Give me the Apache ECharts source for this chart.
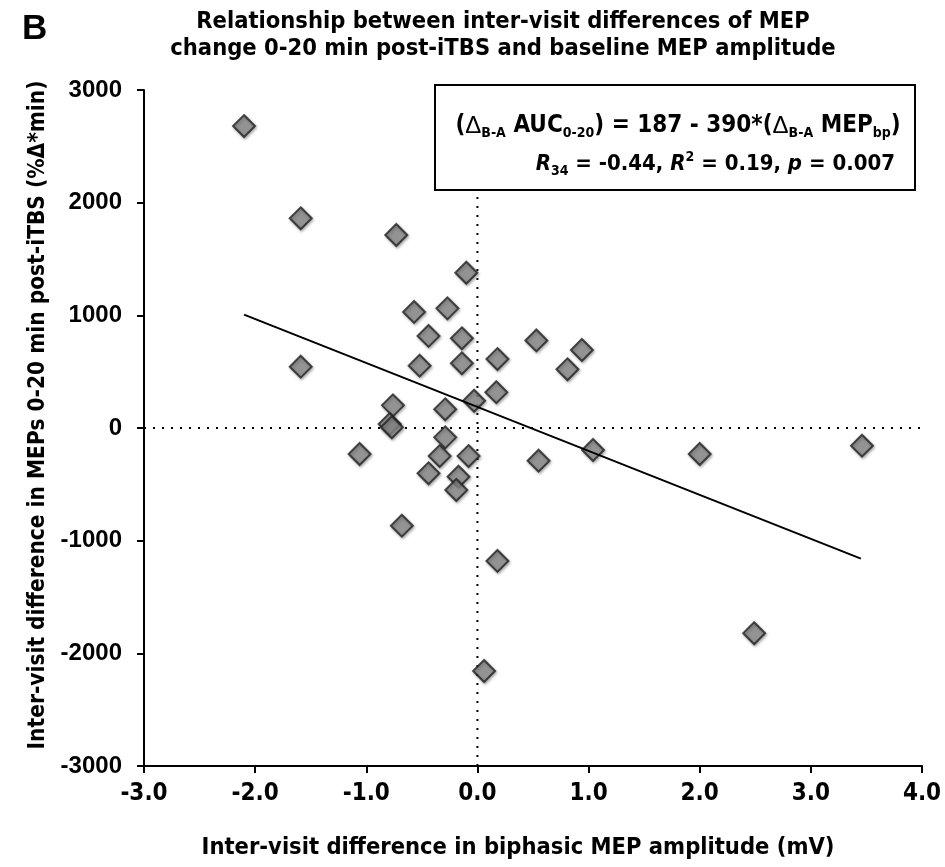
<!DOCTYPE html>
<html>
<head>
<meta charset="utf-8">
<script src="https://cdn.jsdelivr.net/npm/echarts@6/dist/echarts.min.js"></script>
<style>html,body{margin:0;padding:0;background:#fff}#c{width:945px;height:867px}</style>
</head>
<body>
<div id="c"></div>
<script>
// Data
const xValues = [-2.10, -1.59, -0.73, -0.10, -0.57, -0.27, -0.44, -0.14, -1.59, -0.52, -0.14, 0.18, 0.53, 0.94, 0.81, 0.17, -0.03, -0.76, -0.29, -0.79, -0.77, -0.29, -1.06, -0.34, -0.08, -0.44, -0.17, -0.19, -0.68, 0.55, 1.04, 2.00, 3.46, 0.18, 2.49, 0.06];
const yValues = [2680, 1861, 1713, 1378, 1030, 1062, 817, 796, 544, 553, 574, 612, 777, 692, 521, 318, 242, 201, 166, 35, 6, -83, -231, -249, -249, -402, -432, -550, -867, -290, -195, -231, -157, -1180, -1822, -2157];
const fitX = [-2.1, 3.45];
const fitY = [1006, -1159];
const xTicks = [-3, -2, -1, 0, 1, 2, 3, 4];
const yTicks = [-3000, -2000, -1000, 0, 1000, 2000, 3000];
const refZeroX = [[-3, 0], [4, 0]];
const refZeroY = [[0, -3000], [0, 2050]];

const NARROW = "'Liberation Sans Narrow','Arial Narrow','DejaVu Sans Condensed',sans-serif";
const SANS = "'Liberation Sans',Arial,sans-serif";

const chart = echarts.init(document.getElementById('c'), null, {renderer: 'canvas'});
const scatterData = xValues.map((x, i) => [x, yValues[i]]);
const fitData = fitX.map((x, i) => [x, fitY[i]]);

const sub = {fontSize: 14, fontWeight: 'bold', fontFamily: NARROW, lineHeight: 14, verticalAlign: 'bottom', fill: '#000'};
chart.setOption({
  animation: false,
  backgroundColor: '#fff',
  grid: {left: 144, right: 23, top: 90, bottom: 101},
  xAxis: {
    type: 'value', min: xTicks[0], max: xTicks[xTicks.length - 1], interval: 1,
    splitLine: {show: false},
    axisLine: {onZero: false, lineStyle: {color: '#000', width: 2}},
    axisTick: {inside: false, length: 7, lineStyle: {color: '#000', width: 2}},
    axisLabel: {margin: 16, color: '#000', fontSize: 24, fontWeight: 'bold', fontFamily: NARROW,
      formatter: v => v.toFixed(1)}
  },
  yAxis: {
    type: 'value', min: yTicks[0], max: yTicks[yTicks.length - 1], interval: 1000,
    splitLine: {show: false},
    axisLine: {onZero: false, lineStyle: {color: '#000', width: 2}},
    axisTick: {inside: false, length: 7, lineStyle: {color: '#000', width: 2}},
    axisLabel: {margin: 22, color: '#000', fontSize: 24, fontWeight: 'bold', fontFamily: SANS,
      formatter: v => String(v)}
  },
  series: [
    {type: 'line', data: refZeroX, symbol: 'none', silent: true, z: 1,
     lineStyle: {color: '#000', width: 2, type: [2, 7]}},
    {type: 'line', data: refZeroY, symbol: 'none', silent: true, z: 1,
     lineStyle: {color: '#000', width: 2, type: [2, 7]}},
    {type: 'scatter', data: scatterData, symbol: 'diamond', symbolSize: [22, 22], z: 3,
     itemStyle: {color: '#8a8a8a', borderColor: '#222', borderWidth: 2,
       shadowBlur: 3, shadowColor: 'rgba(0,0,0,0.35)', shadowOffsetX: 1, shadowOffsetY: 1.5}},
    {type: 'line', data: fitData, symbol: 'none', silent: true, z: 4,
     lineStyle: {color: '#000', width: 2}}
  ],
  graphic: [
    {type: 'text', left: 22, top: 12, style: {text: 'B', fontSize: 35, fontWeight: 'bold', fontFamily: SANS, fill: '#000'}},
    {type: 'text', x: 503, y: 8, style: {text: 'Relationship between inter-visit differences of MEP\nchange 0-20 min post-iTBS and baseline MEP amplitude',
      align: 'center', verticalAlign: 'top', fontSize: 23.5, lineHeight: 27, fontWeight: 'bold', fontFamily: NARROW, fill: '#000'}},
    {type: 'text', x: 518, y: 848, style: {text: 'Inter-visit difference in biphasic MEP amplitude (mV)',
      align: 'center', verticalAlign: 'middle', fontSize: 23.5, fontWeight: 'bold', fontFamily: NARROW, fill: '#000'}},
    {type: 'text', x: 38, y: 415, rotation: Math.PI / 2, style: {text: 'Inter-visit difference in MEPs 0-20 min post-iTBS (%Δ*min)',
      align: 'center', verticalAlign: 'middle', fontSize: 22.5, fontWeight: 'bold', fontFamily: NARROW, fill: '#000'}},
    {type: 'rect', shape: {x: 435, y: 85, width: 480, height: 105}, z: 10,
     style: {fill: '#fff', stroke: '#000', lineWidth: 2}},
    {type: 'text', x: 678, y: 126, z: 11, style: {
      text: '{p|(}{d|Δ}{s|B-A}{p| AUC}{s|0-20}{p|) = 187 - 390*(}{d|Δ}{s|B-A}{p| MEP}{s|bp}{p|)}',
      align: 'center', verticalAlign: 'middle',
      rich: {
        p: {fontSize: 24, fontWeight: 'bold', fontFamily: NARROW, lineHeight: 28, fill: '#000'},
        d: {fontSize: 24, fontWeight: 'normal', fontFamily: SANS, lineHeight: 28, fill: '#000'},
        s: sub
      }}},
    {type: 'text', x: 895, y: 164, z: 11, style: {
      text: '{i|R}{s|34}{p| = -0.44, }{i|R}{u|2}{p| = 0.19, }{i|p}{p| = 0.007}',
      align: 'right', verticalAlign: 'middle',
      rich: {
        p: {fontSize: 22, fontWeight: 'bold', fontFamily: NARROW, lineHeight: 28, fill: '#000'},
        i: {fontSize: 22, fontWeight: 'bold', fontStyle: 'italic', fontFamily: NARROW, lineHeight: 28, fill: '#000'},
        s: sub,
        u: {fontSize: 14, fontWeight: 'bold', fontFamily: NARROW, lineHeight: 14, verticalAlign: 'top', fill: '#000'}
      }}}
  ]
});
</script>
</body>
</html>
